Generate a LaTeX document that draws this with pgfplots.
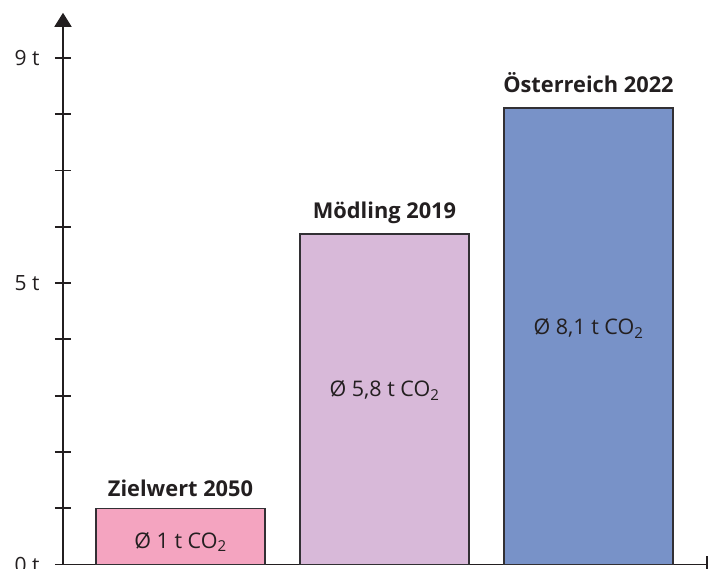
\documentclass[border=0pt]{standalone}
\usepackage{fontspec}
\setmainfont{Open Sans}
\usepackage{pgfplots}
\pgfplotsset{compat=1.18}
\usetikzlibrary{arrows.meta}
\definecolor{barpink}{RGB}{244,164,192}
\definecolor{barlav}{RGB}{216,185,217}
\definecolor{barblue}{RGB}{120,146,200}
\definecolor{axiscol}{RGB}{35,31,32}
\definecolor{outl}{RGB}{50,48,52}
\begin{document}
\begin{tikzpicture}
\begin{axis}[
  at={(0,0)}, anchor=south west,
  scale only axis, width=644pt, height=551.7pt,
  xmin=-0.576, xmax=2.581, ymin=0, ymax=9.8,
  axis lines=left,
  axis line style={line width=1.8pt, color=axiscol},
  x axis line style={-},
  y axis line style={-{Triangle[width=17pt,length=14pt]}},
  xtick=\empty,
  extra x ticks={2.581}, extra x tick labels={},
  extra x tick style={tick align=center, major tick length=16pt},
  ytick={0,1,2,3,4,5,6,7,8,9},
  yticklabels={0 t,,,,,5 t,,,,9 t},
  tick align=center, major tick length=16pt,
  tick style={line width=1.8pt, color=axiscol},
  yticklabel style={font=\fontsize{21}{21}\selectfont, text=axiscol, xshift=-12pt},
  clip=false,
]
\addplot[ybar, bar width=0.828, bar shift=0pt, fill=barpink, draw=outl, line width=1.3pt] coordinates {(0,1)};
\addplot[ybar, bar width=0.828, bar shift=0pt, fill=barlav, draw=outl, line width=1.3pt] coordinates {(1,5.87)};
\addplot[ybar, bar width=0.828, bar shift=0pt, fill=barblue, draw=outl, line width=1.3pt] coordinates {(2,8.11)};
\node[anchor=base, font=\fontsize{21.8}{21.8}\selectfont\bfseries, text=axiscol] at (axis cs:0,1.2) {Zielwert 2050};
\node[anchor=base, font=\fontsize{21.8}{21.8}\selectfont\bfseries, text=axiscol] at (axis cs:1,6.15) {Mödling 2019};
\node[anchor=base, font=\fontsize{21.8}{21.8}\selectfont\bfseries, text=axiscol] at (axis cs:2,8.38) {Österreich 2022};
\node[anchor=base, font=\fontsize{21.5}{21.5}\selectfont, text=axiscol] at (axis cs:0,0.293) {Ø 1 t CO\textsubscript{2}};
\node[anchor=base, font=\fontsize{21.5}{21.5}\selectfont, text=axiscol] at (axis cs:1,2.98) {Ø 5,8 t CO\textsubscript{2}};
\node[anchor=base, font=\fontsize{21.5}{21.5}\selectfont, text=axiscol] at (axis cs:2,4.08) {Ø 8,1 t CO\textsubscript{2}};
\end{axis}
\pgfresetboundingbox
\path (-63pt,-4.5pt) rectangle (652pt,564.5pt);
\end{tikzpicture}
\end{document}
